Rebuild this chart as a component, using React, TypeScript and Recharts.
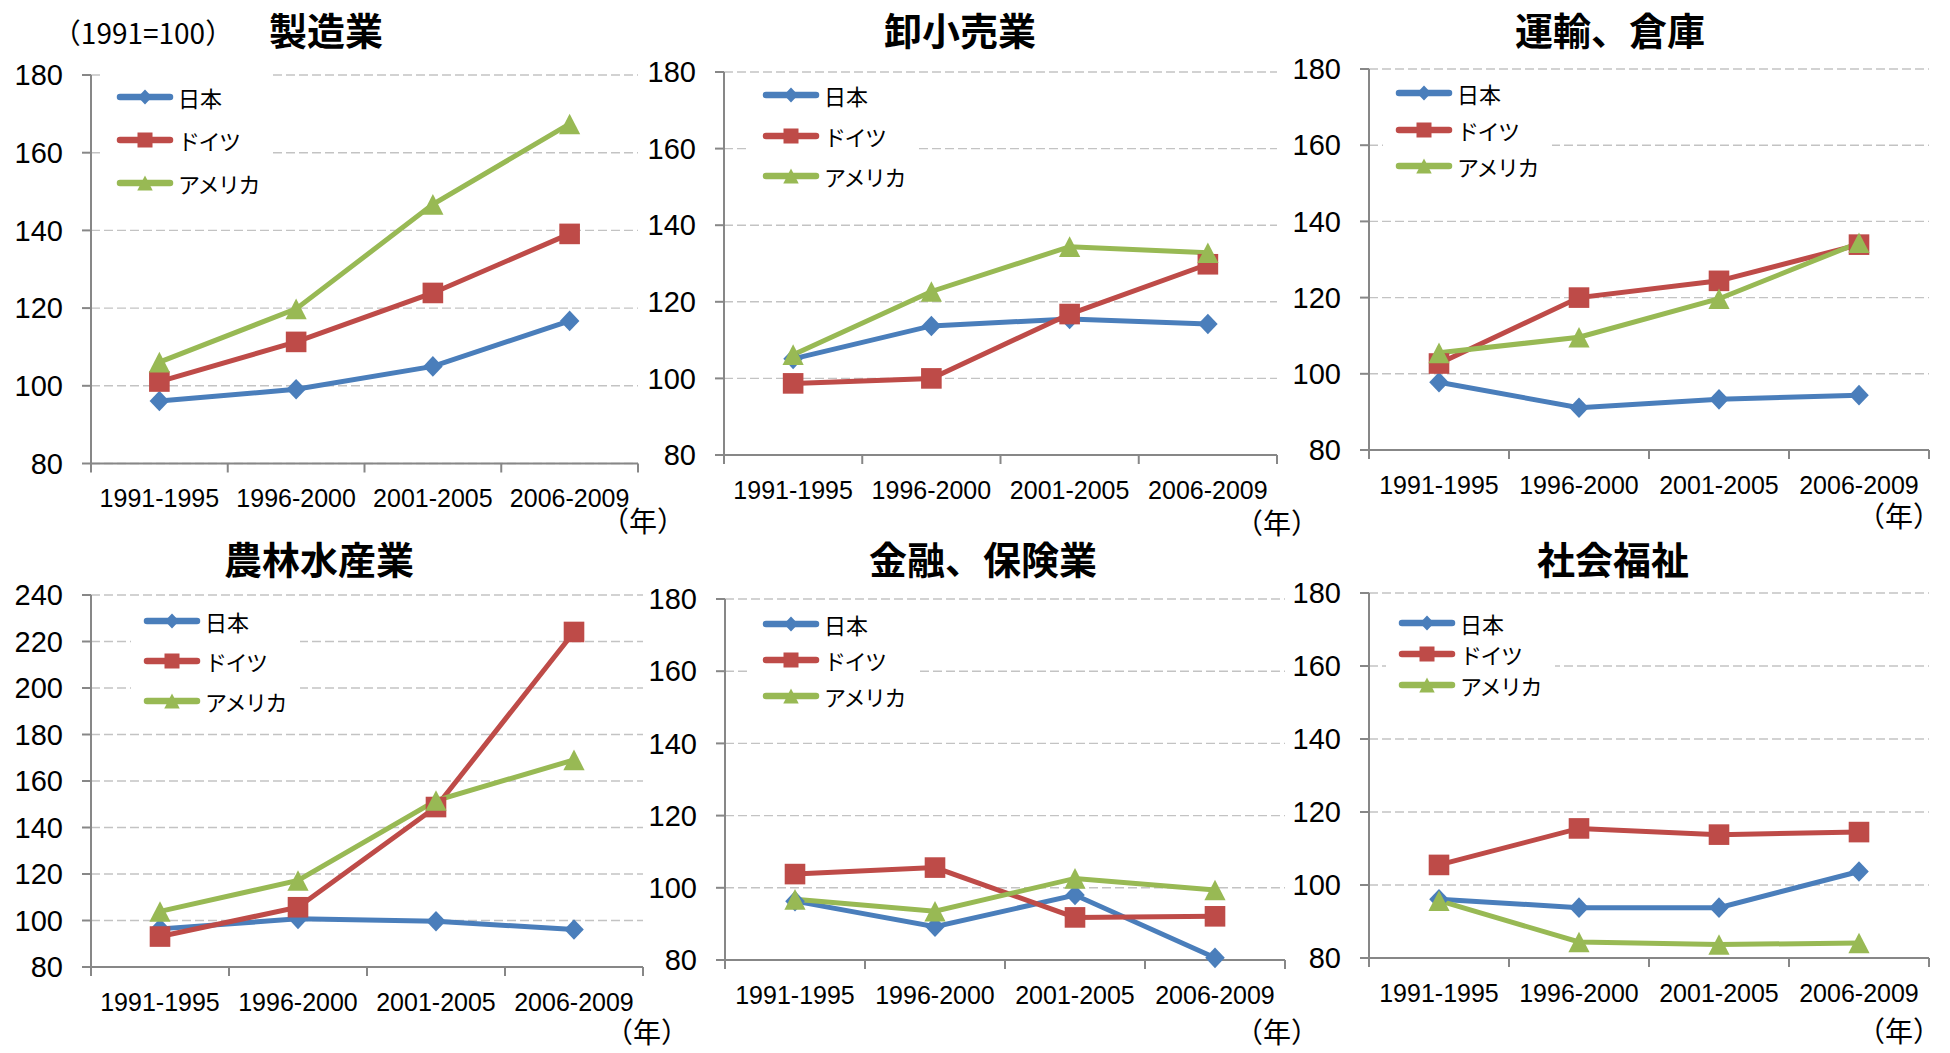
import { LineChart, Line, XAxis, YAxis, CartesianGrid, Legend } from "recharts";

const periods = ["1991-1995", "1996-2000", "2001-2005", "2006-2009"];
const seriesNames = ["日本", "ドイツ", "アメリカ"];
const yTicksStd = [80, 100, 120, 140, 160, 180];
const yTicksAgri = [80, 100, 120, 140, 160, 180, 200, 220, 240];

// 製造業
const manufJapan = [96.1, 99.1, 105.0, 116.7];
const manufGermany = [101.1, 111.3, 123.9, 139.1];
const manufUsa = [106.1, 119.8, 146.7, 167.4];

// 卸小売業
const retailJapan = [105.1, 113.7, 115.5, 114.2];
const retailGermany = [98.7, 100.0, 116.8, 129.8];
const retailUsa = [106.2, 122.7, 134.4, 132.8];

// 運輸、倉庫
const transJapan = [97.8, 91.1, 93.3, 94.4];
const transGermany = [102.7, 120.0, 124.4, 133.9];
const transUsa = [105.5, 109.6, 119.7, 134.4];

// 農林水産業
const agriJapan = [96.4, 100.7, 99.7, 96.1];
const agriGermany = [93.1, 105.7, 148.8, 224.1];
const agriUsa = [103.9, 117.2, 151.6, 169.1];

// 金融、保険業
const finJapan = [96.3, 89.2, 98.0, 80.6];
const finGermany = [103.8, 105.6, 91.8, 92.1];
const finUsa = [96.8, 93.5, 102.6, 99.4];

// 社会福祉
const welfJapan = [96.1, 93.8, 93.8, 103.7];
const welfGermany = [105.5, 115.5, 113.8, 114.5];
const welfUsa = [95.7, 84.4, 83.7, 84.1];

const FONT = '"Liberation Sans", "Noto Sans CJK JP", sans-serif';
const JP_FONT = '"Noto Sans CJK JP", sans-serif';
const COLORS = ["#4A7EBB", "#BE4B48", "#98B954"];
const SHAPES = ["diamond", "square", "triangle"];
const AXIS = "#878787";
const GRID = "#C3C3C3";

// s = half size of the marker
function Marker({ cx, cy, shape, color, s }: any) {
  if (cx == null || cy == null) return null;
  if (shape === "diamond") {
    return <polygon points={`${cx},${cy - s} ${cx + s * 0.95},${cy} ${cx},${cy + s} ${cx - s * 0.95},${cy}`} fill={color} />;
  }
  if (shape === "square") {
    return <rect x={cx - s} y={cy - s} width={s * 2} height={s * 2} fill={color} />;
  }
  return <polygon points={`${cx},${cy - s} ${cx + s * 1.03},${cy + s} ${cx - s * 1.03},${cy + s}`} fill={color} />;
}

function XTick({ x, y, payload }: any) {
  const v = payload.value;
  if (Number.isInteger(v)) {
    return <line x1={x} x2={x} y1={y} y2={y + 9} stroke={AXIS} strokeWidth={2} />;
  }
  return (
    <text x={x} y={y + 37} textAnchor="middle" dominantBaseline="middle" fontSize={25} fontFamily={FONT} fill="#000">
      {periods[Math.floor(v)]}
    </text>
  );
}

function LegendBox({ payload, gap }: any) {
  const items = [...(payload || [])].sort(
    (a: any, b: any) => seriesNames.indexOf(a.value) - seriesNames.indexOf(b.value)
  );
  return (
    <div style={{ background: "#fff", padding: "2px 14px 2px 12px" }}>
      {items.map((e: any) => {
        const i = seriesNames.indexOf(e.value);
        return (
          <div key={e.value} style={{ display: "flex", alignItems: "center", height: gap }}>
            <svg width={58} height={24}>
              <line x1={4} y1={12} x2={54} y2={12} stroke={COLORS[i]} strokeWidth={6.5} strokeLinecap="round" />
              <Marker cx={29} cy={12} shape={SHAPES[i]} color={COLORS[i]} s={7.5} />
            </svg>
            <span
              style={{ fontSize: 22, fontFamily: JP_FONT, color: "#000", marginLeft: 4, letterSpacing: e.value.length > 2 ? -1.5 : 0 }}
            >
              {e.value}
            </span>
          </div>
        );
      })}
    </div>
  );
}

type Panel = {
  title: string;
  japan: number[];
  germany: number[];
  usa: number[];
  yTicks: number[];
  plot: { x1: number; y1: number; x2: number; y2: number };
  titleAt: [number, number];
  legend: { x: number; y: number; gap: number };
  yearAt: [number, number];
};

const YW = 90;
const MT = 20;
const MR = 16;
const XH = 70;

function PanelChart({ p }: { p: Panel }) {
  const data = periods.map((period, i) => ({
    x: i + 0.5,
    period,
    japan: p.japan[i],
    germany: p.germany[i],
    usa: p.usa[i],
  }));
  const left = p.plot.x1 - YW;
  const top = p.plot.y1 - MT;
  const width = p.plot.x2 - p.plot.x1 + YW + MR;
  const height = p.plot.y2 - p.plot.y1 + MT + XH;
  const keys = ["japan", "germany", "usa"];
  const lgTop = p.legend.y - p.legend.gap / 2 - 2 - top;
  const lgLeft = p.legend.x - 4 - 12 - left;

  return (
    <>
      <div style={{ position: "absolute", left, top }}>
        <LineChart width={width} height={height} data={data} margin={{ top: MT, right: MR, bottom: 0, left: 0 }}>
          <CartesianGrid vertical={false} stroke={GRID} strokeDasharray="9 4" strokeWidth={1.4} />
          <XAxis
            dataKey="x"
            type="number"
            domain={[0, 4]}
            ticks={[0, 0.5, 1, 1.5, 2, 2.5, 3, 3.5, 4]}
            interval={0}
            height={XH}
            tickSize={0}
            tickMargin={0}
            tickLine={false}
            axisLine={{ stroke: AXIS, strokeWidth: 2 }}
            tick={<XTick />}
          />
          <YAxis
            type="number"
            domain={[p.yTicks[0], p.yTicks[p.yTicks.length - 1]]}
            ticks={p.yTicks}
            interval={0}
            width={YW}
            tickSize={9}
            tickMargin={19}
            axisLine={{ stroke: AXIS, strokeWidth: 2 }}
            tickLine={{ stroke: AXIS, strokeWidth: 2 }}
            tick={{ fontSize: 29, fill: "#000", fontFamily: FONT }}
          />
          <Legend
            layout="vertical"
            align="center"
            verticalAlign="middle"
            wrapperStyle={{ left: lgLeft, top: lgTop, width: "auto", height: "auto" }}
            content={(props: any) => <LegendBox payload={props.payload} gap={p.legend.gap} />}
          />
          {keys.map((k, i) => (
            <Line
              key={k}
              dataKey={k}
              name={seriesNames[i]}
              stroke={COLORS[i]}
              strokeWidth={5}
              legendType={SHAPES[i] as any}
              isAnimationActive={false}
              activeDot={false}
              dot={(d: any) => (
                <Marker key={`${k}-${d.index}`} cx={d.cx} cy={d.cy} shape={SHAPES[i]} color={COLORS[i]} s={10.3} />
              )}
            />
          ))}
        </LineChart>
      </div>
      <div
        style={{
          position: "absolute",
          left: p.titleAt[0],
          top: p.titleAt[1],
          transform: "translate(-50%, -50%)",
          fontFamily: JP_FONT,
          fontWeight: 700,
          fontSize: 38,
          lineHeight: 1,
          whiteSpace: "nowrap",
          color: "#000",
        }}
      >
        {p.title}
      </div>
      <div
        style={{
          position: "absolute",
          left: p.yearAt[0],
          top: p.yearAt[1],
          transform: "translate(-50%, -50%)",
          fontFamily: JP_FONT,
          fontSize: 28,
          lineHeight: 1,
          whiteSpace: "nowrap",
          color: "#000",
        }}
      >
        （年）
      </div>
    </>
  );
}

const panels: Panel[] = [
  {
    title: "製造業", japan: manufJapan, germany: manufGermany, usa: manufUsa, yTicks: yTicksStd,
    plot: { x1: 91, y1: 74.5, x2: 638, y2: 463 }, titleAt: [326, 29], legend: { x: 120, y: 97, gap: 43 }, yearAt: [643, 520],
  },
  {
    title: "卸小売業", japan: retailJapan, germany: retailGermany, usa: retailUsa, yTicks: yTicksStd,
    plot: { x1: 724, y1: 72, x2: 1277, y2: 455 }, titleAt: [960, 29], legend: { x: 766, y: 95, gap: 40.5 }, yearAt: [1277, 522],
  },
  {
    title: "運輸、倉庫", japan: transJapan, germany: transGermany, usa: transUsa, yTicks: yTicksStd,
    plot: { x1: 1369, y1: 69, x2: 1929, y2: 450 }, titleAt: [1610, 29], legend: { x: 1399, y: 93, gap: 36.5 }, yearAt: [1899, 515],
  },
  {
    title: "農林水産業", japan: agriJapan, germany: agriGermany, usa: agriUsa, yTicks: yTicksAgri,
    plot: { x1: 91, y1: 595, x2: 643, y2: 967 }, titleAt: [319, 558], legend: { x: 147, y: 621, gap: 40 }, yearAt: [647, 1031],
  },
  {
    title: "金融、保険業", japan: finJapan, germany: finGermany, usa: finUsa, yTicks: yTicksStd,
    plot: { x1: 725, y1: 599, x2: 1285, y2: 960 }, titleAt: [983, 558], legend: { x: 766, y: 624, gap: 36 }, yearAt: [1277, 1031],
  },
  {
    title: "社会福祉", japan: welfJapan, germany: welfGermany, usa: welfUsa, yTicks: yTicksStd,
    plot: { x1: 1369, y1: 593, x2: 1929, y2: 958 }, titleAt: [1613, 558], legend: { x: 1402, y: 623, gap: 31 }, yearAt: [1899, 1030],
  },
];

export default function App() {
  return (
    <div style={{ position: "absolute", left: 0, top: 0, width: 1950, height: 1053, background: "#fff", overflow: "hidden" }}>
      {panels.map((p) => (
        <PanelChart key={p.title} p={p} />
      ))}
      <div
        style={{
          position: "absolute",
          left: 143,
          top: 32,
          transform: "translate(-50%, -50%)",
          fontFamily: JP_FONT,
          fontSize: 28,
          lineHeight: 1,
          whiteSpace: "nowrap",
          color: "#000",
        }}
      >
        （1991=100）
      </div>
    </div>
  );
}
